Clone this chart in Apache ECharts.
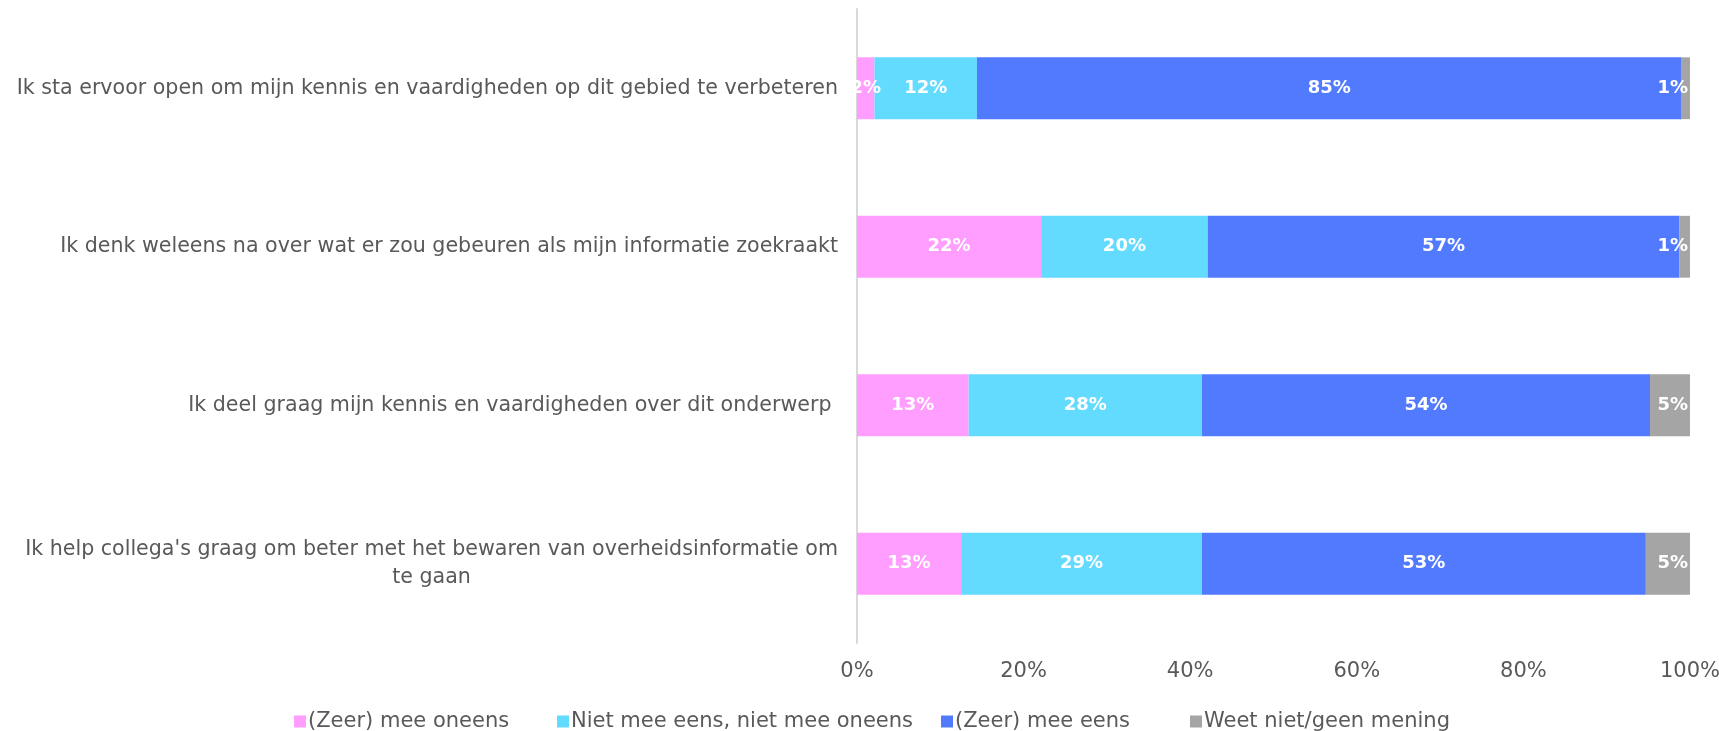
<!DOCTYPE html>
<html>
<head>
<meta charset="utf-8">
<script src="https://cdn.jsdelivr.net/npm/echarts@6/dist/echarts.min.js"></script>
<style>
  html, body { margin: 0; padding: 0; background: #fff; }
  #main { width: 1719px; height: 731px; }
</style>
</head>
<body>
<div id="main"></div>
<script>
var categories = [
  "Ik sta ervoor open om mijn kennis en vaardigheden op dit gebied te verbeteren",
  "Ik denk weleens na over wat er zou gebeuren als mijn informatie zoekraakt",
  "Ik deel graag mijn kennis en vaardigheden over dit onderwerp ",
  "Ik help collega's graag om beter met het bewaren van overheidsinformatie om\nte gaan"
];
var seriesNames = ["(Zeer) mee oneens", "Niet mee eens, niet mee oneens", "(Zeer) mee eens", "Weet niet/geen mening"];
var oneens = [2.1, 22.1, 13.4, 12.5];
var neutraal = [12.3, 20.0, 28.0, 28.9];
var eens = [84.6, 56.6, 53.8, 53.3];
var weetNiet = [1.0, 1.3, 4.8, 5.3];
var colors = ["#FF9EFF", "#63DBFF", "#527AFF", "#A5A5A5"];
var xTicks = [0, 20, 40, 60, 80, 100];

var chartDom = document.getElementById("main");
var myChart = echarts.init(chartDom);
var font = "DejaVu Sans";

// legend item x positions (Excel spreads them unevenly)
var legendLefts = [294, 557, 941, 1190];

function makeSeries(name, data, color, pos) {
  return {
    name: name,
    type: "bar",
    stack: "total",
    data: data,
    barCategoryGap: "61%",
    itemStyle: { color: color },
    label: {
      show: true,
      position: pos || "inside",
      distance: 2,
      color: "#fff",
      fontFamily: font,
      fontWeight: "bold",
      fontSize: 18,
      formatter: function (p) { return Math.round(p.value) + "%"; }
    }
  };
}

var option = {
  animation: false,
  textStyle: { fontFamily: font },
  grid: { left: 857, right: 29, top: 9, bottom: 88, outerBoundsMode: "none" },
  legend: seriesNames.map(function (n, i) {
    return {
      top: 711,
      left: legendLefts[i],
      padding: 0,
      itemWidth: 12,
      itemHeight: 12,
      icon: "rect",
      textStyle: { color: "#595959", fontSize: 21, fontFamily: font, padding: [0, 0, 0, -3] },
      data: [n]
    };
  }),
  xAxis: {
    type: "value",
    min: xTicks[0],
    max: xTicks[xTicks.length - 1],
    interval: 20,
    axisLine: { show: false },
    axisTick: { show: false },
    splitLine: { show: false },
    axisLabel: {
      color: "#595959",
      fontSize: 21,
      fontFamily: font,
      margin: 18,
      formatter: function (v) { return v + "%"; }
    }
  },
  yAxis: {
    type: "category",
    inverse: true,
    data: categories,
    axisLine: { show: true, lineStyle: { color: "#D9D9D9", width: 2 } },
    axisTick: { show: false },
    axisLabel: {
      color: "#595959",
      fontSize: 20.6,
      fontFamily: font,
      margin: 19,
      lineHeight: 28,
      formatter: function (v) {
        return v.split("\n").map(function (l) { return "{c|" + l + "}"; }).join("\n");
      },
      rich: { c: { align: "center", color: "#595959", fontSize: 20.6, fontFamily: font, lineHeight: 28 } }
    }
  },
  series: [
    makeSeries(seriesNames[0], oneens, colors[0]),
    makeSeries(seriesNames[1], neutraal, colors[1]),
    makeSeries(seriesNames[2], eens, colors[2]),
    makeSeries(seriesNames[3], weetNiet, colors[3], "insideRight")
  ]
};

option && myChart.setOption(option);
</script>
</body>
</html>
